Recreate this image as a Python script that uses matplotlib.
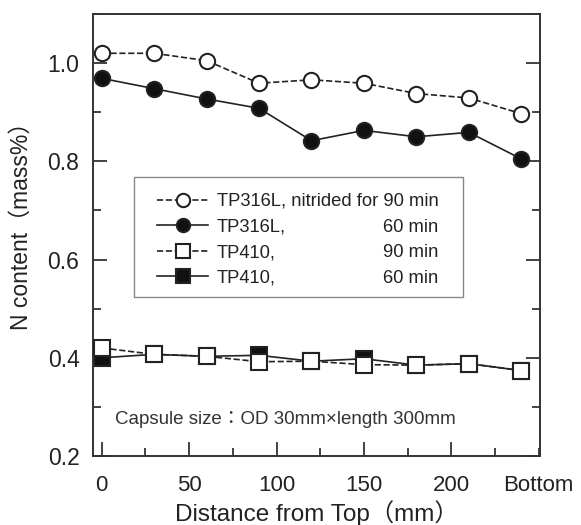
import numpy as np
import matplotlib.pyplot as plt
from matplotlib.ticker import MultipleLocator
from matplotlib.patches import Rectangle

plt.rcParams['font.family'] = ['Liberation Sans', 'Noto Sans CJK JP']

dist = [0, 30, 60, 90, 120, 150, 180, 210, 240]
tp316_90 = [1.020, 1.020, 1.005, 0.959, 0.966, 0.959, 0.938, 0.929, 0.897]
tp316_60 = [0.969, 0.948, 0.927, 0.908, 0.842, 0.863, 0.850, 0.859, 0.805]
tp410_90 = [0.420, 0.407, 0.403, 0.392, 0.393, 0.386, 0.385, 0.388, 0.374]
tp410_60 = [0.400, 0.407, 0.403, 0.405, 0.393, 0.398, 0.385, 0.388, 0.374]

labels = ['TP316L, nitrided for 90 min', 'TP316L,', 'TP410,', 'TP410,']
times = ['90 min', '60 min', '90 min', '60 min']

W, H = 581, 525
fig = plt.figure(figsize=(W / 100, H / 100), dpi=100)
ax = fig.add_axes([93.3 / W, 1 - 456 / H, (540 - 93.3) / W, (456 - 14) / H])

lw = 1.2
ms = 11
ax.plot(dist, tp410_60, '-', color='#222', lw=lw, marker='s', ms=ms, mfc='#111', mec='#222', mew=1.5, label=labels[3], zorder=2)
ax.plot(dist, tp410_90, '--', color='#222', lw=lw, marker='s', ms=ms, mfc='white', mec='#222', mew=1.5, label=labels[2], zorder=3)
ax.plot(dist, tp316_60, '-', color='#222', lw=lw, marker='o', ms=ms, mfc='#111', mec='#222', mew=1.5, label=labels[1], zorder=2)
ax.plot(dist, tp316_90, '--', color='#222', lw=lw, marker='o', ms=ms, mfc='white', mec='#222', mew=1.5, label=labels[0], zorder=3)

ax.set_xlim(-4.8, 250.7)
ax.set_ylim(0.2, 1.1)
ax.set_xticks([0, 50, 100, 150, 200])
ax.xaxis.set_minor_locator(MultipleLocator(25))
ax.yaxis.set_minor_locator(MultipleLocator(0.1))
ax.set_yticks([0.2, 0.4, 0.6, 0.8, 1.0])
ax.set_yticklabels(['0.2', '0.4', '0.6', '0.8', '1.0'])
ax.tick_params(which='both', direction='in', top=False, right=True, colors='#222', width=1.2)
ax.tick_params(which='major', length=10)
ax.tick_params(which='minor', length=6)
ax.tick_params(axis='y', labelsize=16.5, pad=10)
ax.tick_params(axis='x', labelsize=16, pad=14)
for s in ax.spines.values():
    s.set_linewidth(1.4)
    s.set_color('#333')

ax.text(249.9, -0.043, 'Bottom', transform=ax.get_xaxis_transform(), ha='center', va='top', fontsize=16, color='#222')
ax.set_xlabel('Distance from Top（mm）', fontsize=17.5, color='#222')
ax.xaxis.set_label_coords(0.5, -0.1)
ax.set_ylabel('N content（mass%）', fontsize=16.5, color='#222')
ax.yaxis.set_label_coords(-0.135, 0.532)

ax.text(0.0486, 0.0837, 'Capsule size：OD 30mm×length 300mm', transform=ax.transAxes, fontsize=13.5, color='#333', va='center')

# legend frame drawn by hand
fig.patches.append(Rectangle((134 / W, 1 - 297 / H), (463 - 134) / W, (297 - 177) / H, transform=fig.transFigure,
                             facecolor='white', edgecolor='#888', lw=1.0, zorder=4))

h, l = ax.get_legend_handles_labels()
h = h[::-1]
l = l[::-1]
leg = fig.legend(h, l, loc='upper left', bbox_to_anchor=(157 / W, 1 - 193 / H), fontsize=13.2, frameon=False,
                 handlelength=2.8, handletextpad=0.45, labelspacing=0.47, borderpad=0, borderaxespad=0, markerscale=0.87)
leg.set_zorder(5)
for t in leg.get_texts():
    t.set_color('#222')

fig.canvas.draw()
r = fig.canvas.get_renderer()
texts = leg.get_texts()
right = texts[0].get_window_extent(r).x1
for t, tm in zip(texts[1:], times[1:]):
    bb = t.get_window_extent(r)
    y = (bb.y0 + bb.y1) / 2
    fig.text(right / fig.bbox.width, y / fig.bbox.height, tm, ha='right', va='center', fontsize=13.2, color='#222', zorder=6)

fig.savefig('out.png', dpi=100)
